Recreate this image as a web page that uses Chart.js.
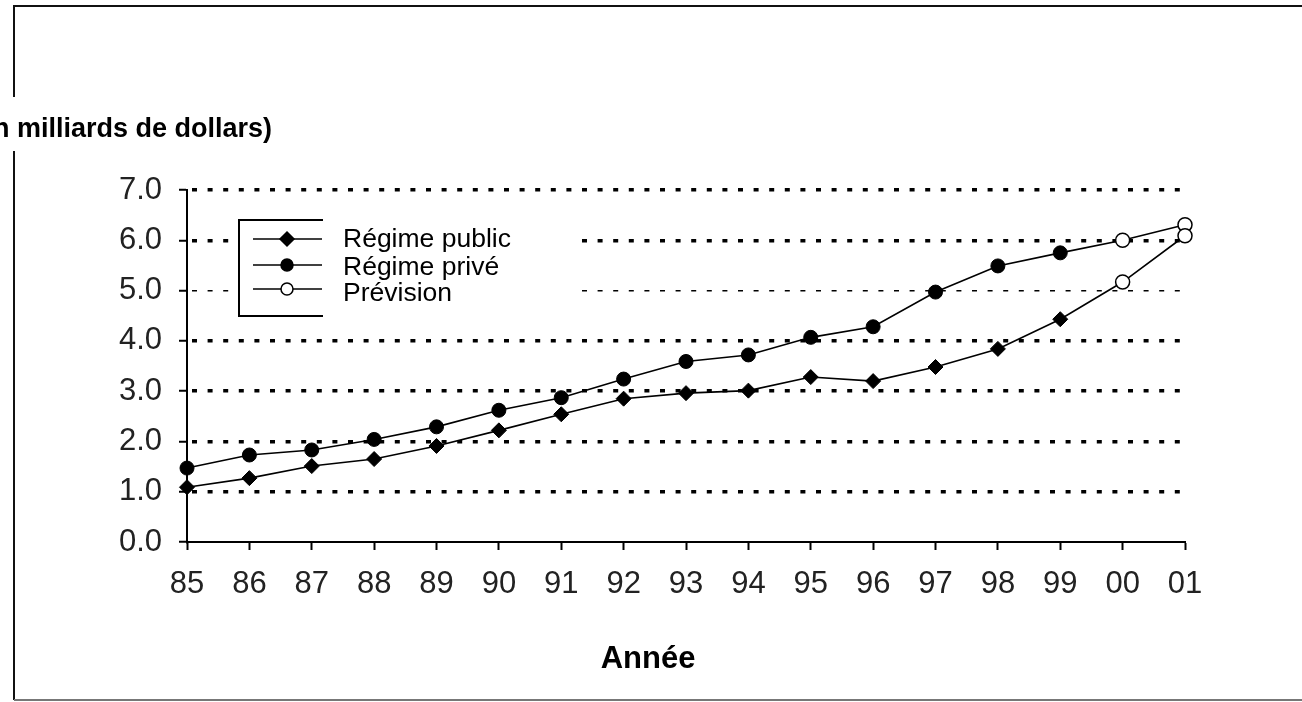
<!DOCTYPE html>
<html lang="fr">
<head>
    <meta charset="UTF-8">
    <title>Régime public et régime privé</title>
    <script src="https://cdnjs.cloudflare.com/ajax/libs/chart.js/4.4.1/chart.umd.min.js"></script>
    <style>
        html, body {
            margin: 0;
            padding: 0;
            background: #fff;
            overflow: hidden;
        }

        .canvas-container {
            position: relative;
            width: 1302px;
            height: 702px;
        }
    </style>
</head>
<body>
    <div class="canvas-container">
        <canvas id="regimeChart"></canvas>
    </div>

    <script>
        // Data
        const years = ['85', '86', '87', '88', '89', '90', '91', '92', '93', '94', '95', '96', '97', '98', '99', '00', '01'];
        const publicValues = [1.09, 1.27, 1.51, 1.65, 1.91, 2.22, 2.54, 2.85, 2.96, 3.01, 3.28, 3.20, 3.48, 3.84, 4.43, 5.17, 6.09];
        const priveValues = [1.47, 1.73, 1.83, 2.04, 2.29, 2.62, 2.87, 3.24, 3.59, 3.72, 4.07, 4.28, 4.97, 5.49, 5.75, 6.00, 6.31];
        const forecastYears = ['00', '01'];
        const yTickValues = [0, 1, 2, 3, 4, 5, 6, 7];
        const legendLabels = ['Régime public', 'Régime privé', 'Prévision'];
        const yTitle = '(en milliards de dollars)';
        const xTitle = 'Année';

        const FONT = "'Liberation Sans', Arial, sans-serif";

        const isForecast = ctx => forecastYears.includes(years[ctx.dataIndex]);

        // small marker helper for the hand drawn legend
        function drawMarker(ctx, style, x, y, r, filled) {
            ctx.beginPath();
            if (style === 'diamond') {
                ctx.moveTo(x, y - r);
                ctx.lineTo(x + r, y);
                ctx.lineTo(x, y + r);
                ctx.lineTo(x - r, y);
                ctx.closePath();
            } else {
                ctx.arc(x, y, r, 0, Math.PI * 2);
            }
            ctx.fillStyle = filled ? '#000' : '#fff';
            ctx.fill();
            ctx.lineWidth = 1.5;
            ctx.strokeStyle = '#000';
            ctx.stroke();
        }

        const decorPlugin = {
            id: 'decor',
            beforeDraw(chart) {
                const ctx = chart.ctx;
                ctx.save();
                ctx.fillStyle = '#fff';
                ctx.fillRect(0, 0, chart.width, chart.height);
                // outer frame (right side is cut off)
                ctx.lineWidth = 2;
                ctx.strokeStyle = '#111';
                ctx.beginPath();
                ctx.moveTo(chart.width, 6);
                ctx.lineTo(14, 6);
                ctx.lineTo(14, 700);
                ctx.stroke();
                ctx.strokeStyle = '#777';
                ctx.beginPath();
                ctx.moveTo(14, 700);
                ctx.lineTo(chart.width, 700);
                ctx.stroke();
                ctx.restore();
            },
            afterDraw(chart) {
                const ctx = chart.ctx;
                ctx.save();

                // y title, partly off the left edge
                ctx.fillStyle = '#fff';
                ctx.fillRect(0, 97, 285, 54);
                ctx.fillStyle = '#000';
                ctx.font = 'bold 27px ' + FONT;
                ctx.textAlign = 'right';
                ctx.textBaseline = 'alphabetic';
                ctx.fillText(yTitle, 272, 137);

                // x title
                ctx.font = 'bold 31px ' + FONT;
                ctx.textAlign = 'center';
                ctx.fillText(xTitle, 648, 668);

                // legend
                ctx.fillStyle = '#fff';
                ctx.fillRect(239, 220, 341, 96);
                ctx.strokeStyle = '#000';
                ctx.lineWidth = 2;
                ctx.beginPath();
                ctx.moveTo(323, 220);
                ctx.lineTo(239, 220);
                ctx.lineTo(239, 316);
                ctx.lineTo(323, 316);
                ctx.stroke();

                const rows = [239, 265, 289];
                const baselines = [247, 275, 301];
                const markers = [['diamond', true], ['circle', true], ['circle', false]];
                legendLabels.forEach((label, i) => {
                    ctx.strokeStyle = '#000';
                    ctx.lineWidth = 1.5;
                    ctx.beginPath();
                    ctx.moveTo(253, rows[i]);
                    ctx.lineTo(322, rows[i]);
                    ctx.stroke();
                    drawMarker(ctx, markers[i][0], 287, rows[i], markers[i][0] === 'diamond' ? 7 : 6, markers[i][1]);
                    ctx.fillStyle = '#000';
                    ctx.font = '26.5px ' + FONT;
                    ctx.textAlign = 'left';
                    ctx.fillText(label, 343, baselines[i]);
                });

                ctx.restore();
            }
        };

        const lineStyle = (data, shape, radius) => ({
            data: data,
            borderColor: '#000',
            borderWidth: 1.6,
            tension: 0,
            fill: false,
            clip: false,
            pointStyle: ctx => isForecast(ctx) ? 'circle' : shape,
            pointRadius: ctx => isForecast(ctx) ? 7 : radius,
            pointBackgroundColor: ctx => isForecast(ctx) ? '#fff' : '#000',
            pointBorderColor: '#000',
            pointBorderWidth: ctx => isForecast(ctx) ? 1.5 : 1
        });

        const ctx = document.getElementById('regimeChart').getContext('2d');
        new Chart(ctx, {
            type: 'line',
            data: {
                labels: years,
                datasets: [
                    { label: legendLabels[0], ...lineStyle(publicValues, 'rectRot', 7.5) },
                    { label: legendLabels[1], ...lineStyle(priveValues, 'circle', 7) }
                ]
            },
            options: {
                responsive: true,
                maintainAspectRatio: false,
                animation: false,
                events: [],
                layout: {
                    padding: { top: 190, right: 117, bottom: 0, left: 0 }
                },
                plugins: {
                    legend: { display: false },
                    tooltip: { enabled: false }
                },
                scales: {
                    x: {
                        offset: false,
                        afterFit: scale => { scale.height = 160; },
                        border: { display: true, color: '#000', width: 2 },
                        grid: {
                            drawOnChartArea: false,
                            drawTicks: true,
                            tickLength: 8,
                            tickWidth: 2,
                            tickColor: '#000'
                        },
                        ticks: {
                            color: '#222',
                            padding: 16,
                            autoSkip: false,
                            maxRotation: 0,
                            font: { family: FONT, size: 31 }
                        }
                    },
                    y: {
                        min: 0,
                        max: 7,
                        afterFit: scale => { scale.width = 187; },
                        afterBuildTicks: scale => {
                            scale.ticks = yTickValues.map(v => ({ value: v }));
                        },
                        border: {
                            display: true,
                            color: '#000',
                            width: 2,
                            dash: [5, 10.6],
                            dashOffset: -4
                        },
                        grid: {
                            color: c => c.tick && c.tick.value === 0 ? 'rgba(0,0,0,0)' : '#000',
                            lineWidth: c => c.tick && c.tick.value === 5 ? 1.5 : 3.5,
                            drawTicks: true,
                            tickLength: 8,
                            tickWidth: 2,
                            tickColor: '#000',
                            tickBorderDash: []
                        },
                        ticks: {
                            color: '#222',
                            padding: 17,
                            font: { family: FONT, size: 31 },
                            callback: value => Number(value).toFixed(1)
                        }
                    }
                }
            },
            plugins: [decorPlugin]
        });
    </script>
</body>
</html>
